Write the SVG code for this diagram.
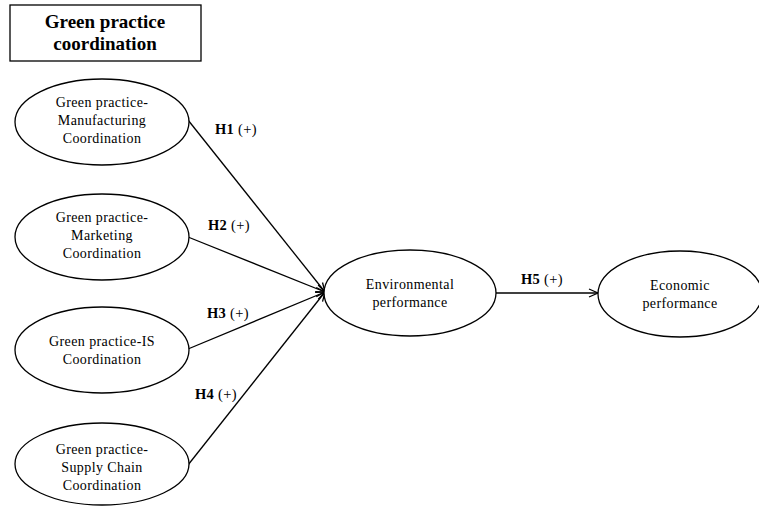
<svg xmlns="http://www.w3.org/2000/svg" width="759" height="508" viewBox="0 0 759 508">
<defs>
<style>
.n{fill:#fff;stroke:#000;stroke-width:1.3}
.t{font-family:"Liberation Serif","Times New Roman",serif;font-size:14px;letter-spacing:0.4px;fill:#000;text-anchor:middle}
.h{font-family:"Liberation Serif","Times New Roman",serif;font-size:14.5px;font-weight:bold;fill:#000;letter-spacing:0.3px}
.c{stroke:#000;stroke-width:1.3;fill:none}
</style>
<marker id="ar" markerWidth="12" markerHeight="12" refX="10" refY="5" orient="auto" markerUnits="userSpaceOnUse">
<path d="M1,1 L10,5 L1,9" fill="none" stroke="#000" stroke-width="1.3"/>
</marker>
</defs>
<rect width="759" height="508" fill="#fff"/>
<g id="title">
<rect x="10" y="5" width="191" height="56" fill="#fff" stroke="#000" stroke-width="1.3"/>
<text x="105" y="28" class="t" style="font-size:19px;font-weight:bold;letter-spacing:0">Green practice</text>
<text x="105" y="50" class="t" style="font-size:19px;font-weight:bold;letter-spacing:0">coordination</text>
</g>
<g id="connectors">
<line class="c" x1="188" y1="120" x2="325" y2="292" marker-end="url(#ar)"/>
<line class="c" x1="188" y1="237" x2="325" y2="292" marker-end="url(#ar)"/>
<line class="c" x1="188" y1="349" x2="325" y2="292" marker-end="url(#ar)"/>
<line class="c" x1="188" y1="465" x2="325" y2="292" marker-end="url(#ar)"/>
<line class="c" x1="496" y1="293" x2="598" y2="293" marker-end="url(#ar)"/>
<text x="215" y="134" class="h">H1 <tspan font-weight="normal">(+)</tspan></text>
<text x="208" y="230" class="h">H2 <tspan font-weight="normal">(+)</tspan></text>
<text x="207" y="318" class="h">H3 <tspan font-weight="normal">(+)</tspan></text>
<text x="195" y="399" class="h">H4 <tspan font-weight="normal">(+)</tspan></text>
<text x="521" y="284" class="h">H5 <tspan font-weight="normal">(+)</tspan></text>
</g>
<g id="n1">
<ellipse class="n" cx="102" cy="122" rx="87" ry="43"/>
<text class="t" x="102" y="107">Green practice-</text>
<text class="t" x="102" y="125">Manufacturing</text>
<text class="t" x="102" y="143">Coordination</text>
</g>
<g id="n2">
<ellipse class="n" cx="102" cy="237" rx="87" ry="43"/>
<text class="t" x="102" y="222">Green practice-</text>
<text class="t" x="102" y="240">Marketing</text>
<text class="t" x="102" y="258">Coordination</text>
</g>
<g id="n3">
<ellipse class="n" cx="102" cy="350" rx="87" ry="43"/>
<text class="t" x="102" y="346">Green practice-IS</text>
<text class="t" x="102" y="364">Coordination</text>
</g>
<g id="n4">
<ellipse class="n" cx="102" cy="464" rx="87" ry="41"/>
<text class="t" x="102" y="454">Green practice-</text>
<text class="t" x="102" y="472">Supply Chain</text>
<text class="t" x="102" y="490">Coordination</text>
</g>
<g id="n5">
<ellipse class="n" cx="410" cy="293" rx="86" ry="43"/>
<text class="t" x="410" y="289">Environmental</text>
<text class="t" x="410" y="307">performance</text>
</g>
<g id="n6">
<ellipse class="n" cx="680" cy="294" rx="82" ry="43"/>
<text class="t" x="680" y="290">Economic</text>
<text class="t" x="680" y="308">performance</text>
</g>
</svg>
